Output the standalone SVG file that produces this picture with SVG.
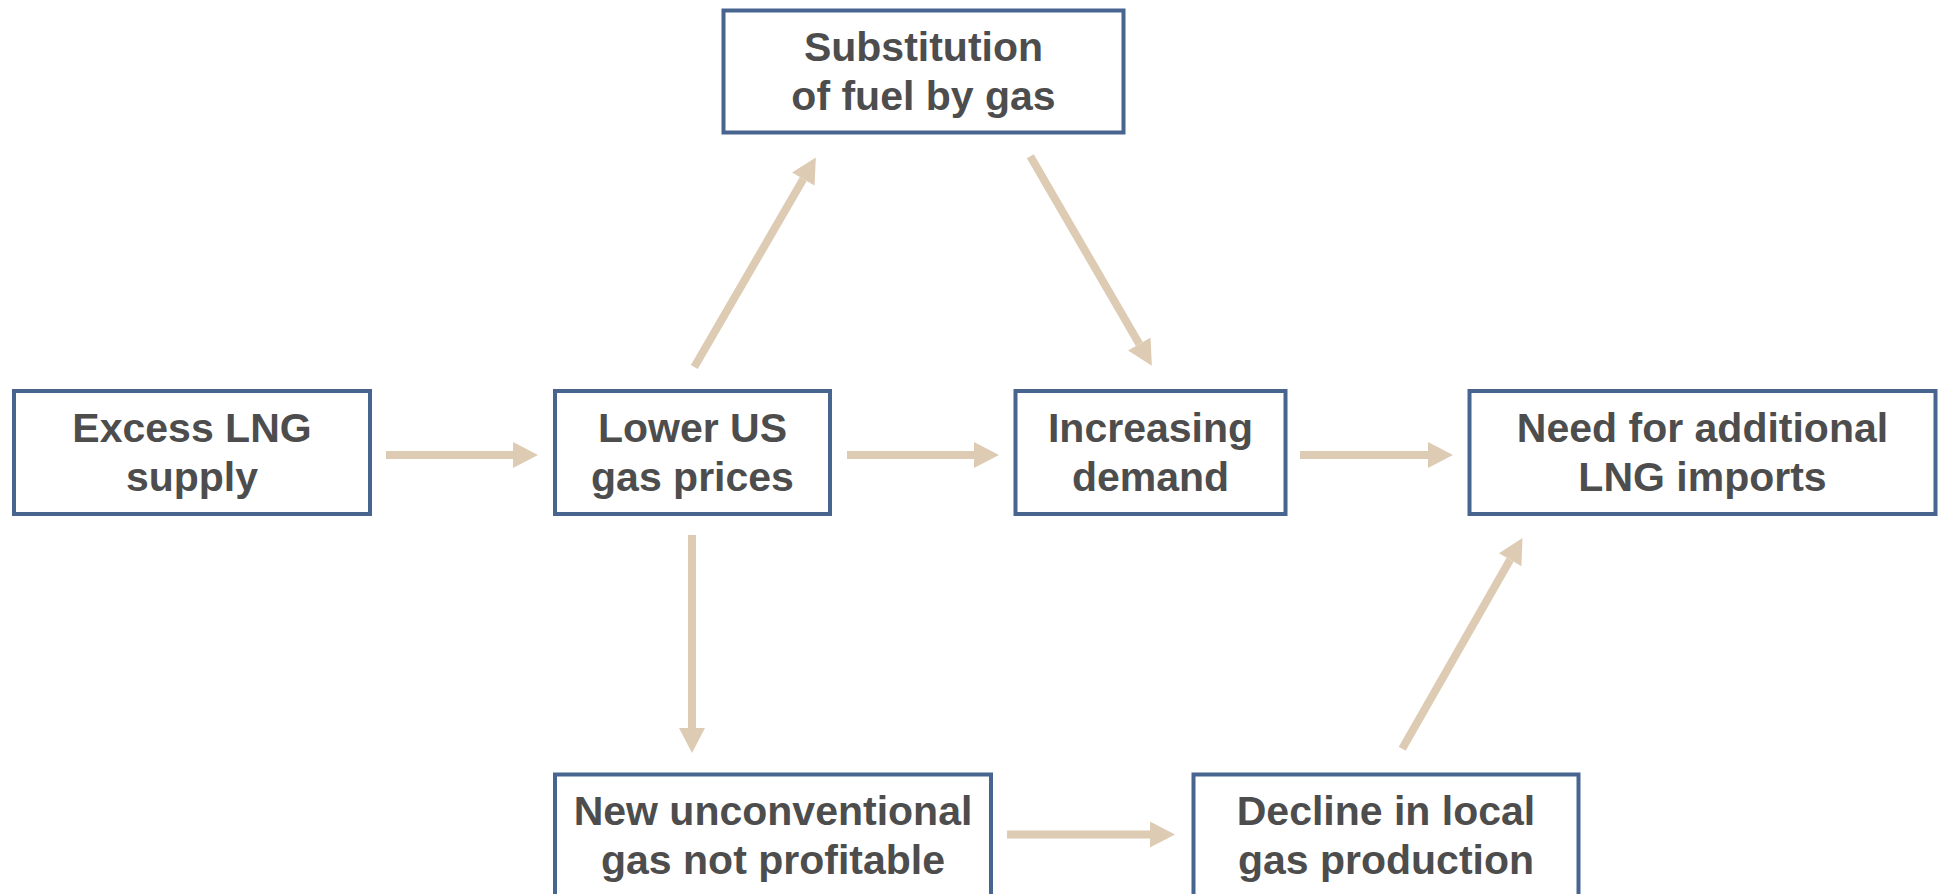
<svg xmlns="http://www.w3.org/2000/svg" width="1944" height="894" viewBox="0 0 1944 894">
<style>
.box{fill:#ffffff;stroke:#47658F;stroke-width:4}
.t{font-family:"Liberation Sans",Arial,sans-serif;font-weight:bold;font-size:41px;fill:#4D4D4D;text-anchor:middle}
.c{stroke:#DDCBB3;stroke-width:8;fill:none;marker-end:url(#ah)}
</style>
<defs>
<marker id="ah" markerUnits="userSpaceOnUse" markerWidth="26" markerHeight="26" refX="0" refY="13" orient="auto" viewBox="0 0 25 26">
<path d="M0,0 L25,13 L0,26 z" fill="#DDCBB3"/>
</marker>
</defs>
<rect width="1944" height="894" fill="#ffffff"/>
<g id="connectors">
<line class="c" x1="386" y1="455" x2="513" y2="455"/>
<line class="c" x1="847" y1="455" x2="974" y2="455"/>
<line class="c" x1="1300" y1="455" x2="1428" y2="455"/>
<line class="c" x1="692" y1="535" x2="692" y2="728"/>
<line class="c" x1="1007" y1="834.5" x2="1150" y2="834.5"/>
<line class="c" x1="694.3" y1="367" x2="803.3" y2="179.1"/>
<line class="c" x1="1030.3" y1="156.2" x2="1139.3" y2="344.1"/>
<line class="c" x1="1402.2" y1="748.8" x2="1510.1" y2="559.7"/>
</g>
<g id="excess">
<rect class="box" x="14" y="391" width="356" height="123"/>
<text class="t" x="192" y="442">Excess LNG</text>
<text class="t" x="192" y="491">supply</text>
</g>
<g id="substitution">
<rect class="box" x="723.5" y="10.5" width="400" height="122"/>
<text class="t" x="923.5" y="61">Substitution</text>
<text class="t" x="923.5" y="110">of fuel by gas</text>
</g>
<g id="lower">
<rect class="box" x="555" y="391" width="275" height="123"/>
<text class="t" x="692.5" y="442">Lower US</text>
<text class="t" x="692.5" y="491">gas prices</text>
</g>
<g id="increasing">
<rect class="box" x="1015.5" y="391" width="270" height="123"/>
<text class="t" x="1150.5" y="442">Increasing</text>
<text class="t" x="1150.5" y="491">demand</text>
</g>
<g id="need">
<rect class="box" x="1469.5" y="391" width="466" height="123"/>
<text class="t" x="1702.5" y="442">Need for additional</text>
<text class="t" x="1702.5" y="491">LNG imports</text>
</g>
<g id="unconventional">
<rect class="box" x="555" y="774.5" width="436" height="123"/>
<text class="t" x="773" y="825">New unconventional</text>
<text class="t" x="773" y="874">gas not profitable</text>
</g>
<g id="decline">
<rect class="box" x="1193.5" y="774.5" width="385" height="123"/>
<text class="t" x="1386" y="825">Decline in local</text>
<text class="t" x="1386" y="874">gas production</text>
</g>
</svg>
